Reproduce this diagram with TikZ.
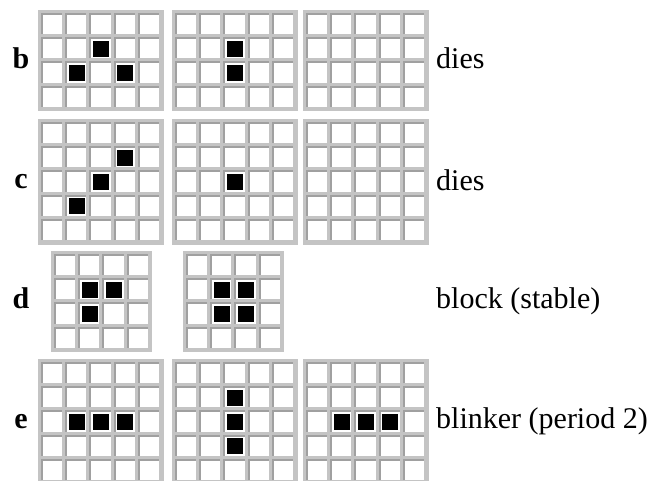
\documentclass[tikz,border=0pt]{standalone}
\usepackage{fontspec}
\setmainfont{Liberation Serif}
\definecolor{bandlight}{HTML}{C4C4C4}
\definecolor{banddark}{HTML}{A0A0A0}
\tikzset{
  boardbg/.style = {fill=bandlight},
  cellbox/.style = {fill=white},
  cellrim/.style = {draw=banddark, line width=2},% left and top shade of a cell
  livecell/.style = {fill=black},
  rowlabel/.style = {anchor=base, inner sep=0pt,
    font=\fontsize{30}{36}\selectfont\bfseries},
  fatelabel/.style = {anchor=base west, inner sep=0pt,
    font=\fontsize{30}{36}\selectfont},
}
% board at (x,y): cols, rows, list of live cells col/row
\newcommand{\lifeboard}[5]{%
  \begin{scope}[shift={(#1,#2)}]
    \fill[boardbg] (0,0) rectangle ({24.2*#3+4.6},{24.2*#4+4.6});
    \foreach \cx in {1,...,#3}
      \foreach \ry in {1,...,#4} {
        \fill[cellbox] ({24.2*(\cx-1)+5},{24.2*(\ry-1)+5}) rectangle ++(19.2,19.2);
        \draw[cellrim] ({24.2*(\cx-1)+4},{24.2*(\ry-1)+24.2}) |- ({24.2*(\cx-1)+24.2},{24.2*(\ry-1)+4});
      }
    \foreach \cx/\ry in {#5}
      \fill[livecell] ({24.2*\cx+6.6},{24.2*\ry+6.6}) rectangle ++(16,16);
  \end{scope}}

\begin{document}
\begin{tikzpicture}[x=1pt,y=-1pt]
\useasboundingbox (0,0) rectangle (655,481);
\clip (0,0) rectangle (655,481);

% row b
\lifeboard{38}{10}{5}{4}{2/1,1/2,3/2}
\lifeboard{172}{10}{5}{4}{2/1,2/2}
\lifeboard{303}{10}{5}{4}{}
\node [rowlabel] (lab_b) at (21,69) {b};
\node [fatelabel] (fate_b) at (436,69) {dies};

% row c
\lifeboard{38}{119}{5}{5}{3/1,2/2,1/3}
\lifeboard{172}{119}{5}{5}{2/2}
\lifeboard{303}{119}{5}{5}{}
\node [rowlabel] (lab_c) at (21,188) {c};
\node [fatelabel] (fate_c) at (436,190) {dies};

% row d
\lifeboard{51}{251}{4}{4}{1/1,2/1,1/2}
\lifeboard{183}{251}{4}{4}{1/1,2/1,1/2,2/2}
\node [rowlabel] (lab_d) at (21,308) {d};
\node [fatelabel] (fate_d) at (436,308) {block (stable)};

% row e
\lifeboard{38}{359}{5}{5}{1/2,2/2,3/2}
\lifeboard{172}{359}{5}{5}{2/1,2/2,2/3}
\lifeboard{303}{359}{5}{5}{1/2,2/2,3/2}
\node [rowlabel] (lab_e) at (21,428) {e};
\node [fatelabel] (fate_e) at (436,428) {blinker (period 2)};
\end{tikzpicture}
\end{document}
